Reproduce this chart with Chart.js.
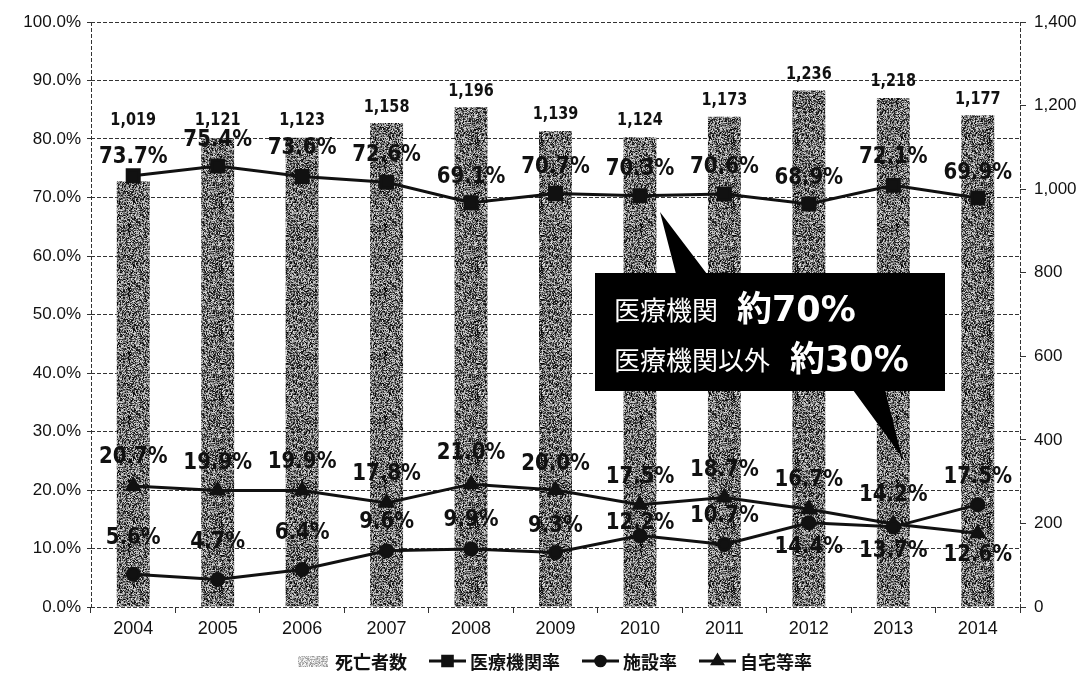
<!DOCTYPE html>
<html lang="ja">
<head>
<meta charset="UTF-8">
<title>死亡場所の推移</title>
<script src="https://cdn.jsdelivr.net/npm/chart.js@4.4.0/dist/chart.umd.min.js"></script>
<style>
    body { margin: 0; background: #fff; }
    #wrap { width: 1082px; height: 673px; }
</style>
</head>
<body>
<div id="wrap"><canvas id="chart" width="1082" height="673"></canvas></div>
<script>
    // data
    const years = ['2004', '2005', '2006', '2007', '2008', '2009', '2010', '2011', '2012', '2013', '2014'];
    const deaths = [1019, 1121, 1123, 1158, 1196, 1139, 1124, 1173, 1236, 1218, 1177];
    const hospitalRate = [73.7, 75.4, 73.6, 72.6, 69.1, 70.7, 70.3, 70.6, 68.9, 72.1, 69.9];
    const facilityRate = [5.6, 4.7, 6.4, 9.6, 9.9, 9.3, 12.2, 10.7, 14.4, 13.7, 17.5];
    const homeRate = [20.7, 19.9, 19.9, 17.8, 21.0, 20.0, 17.5, 18.7, 16.7, 14.2, 12.6];
    const seriesNames = ['死亡者数', '医療機関率', '施設率', '自宅等率'];
    const calloutLines = [['医療機関', '約70%'], ['医療機関以外', '約30%']];

    const INK = '#111';

    // grainy gray fill like the scanned bars (integer hash, not data)
    function grain(base, spread) {
        const n = 64;
        const c = document.createElement('canvas');
        c.width = c.height = n;
        const g = c.getContext('2d');
        const img = g.createImageData(n, n);
        for (let p = 0; p < n * n; p++) {
            let h = Math.imul(p + 1, 374761393) + 668265263;
            h = Math.imul(h ^ (h >>> 13), 1274126177);
            h = (h ^ (h >>> 16)) >>> 0;
            const f = (h % 1000) / 1000;
            const v = Math.max(0, Math.min(255, Math.round(base + (f - 0.5) * spread)));
            img.data[p * 4] = img.data[p * 4 + 1] = img.data[p * 4 + 2] = v;
            img.data[p * 4 + 3] = 255;
        }
        g.putImageData(img, 0, 0);
        return g.createPattern(c, 'repeat');
    }

    function squeezedText(ctx, txt, x, y, font, sx) {
        ctx.save();
        ctx.font = font;
        ctx.translate(x, y);
        ctx.scale(sx, 1);
        ctx.fillText(txt, 0, 0);
        ctx.restore();
    }

    // value labels above/below the marks
    const valueLabels = {
        id: 'valueLabels',
        afterDatasetsDraw(chart) {
            const ctx = chart.ctx;
            ctx.save();
            ctx.fillStyle = INK;
            ctx.textAlign = 'center';
            ctx.textBaseline = 'middle';
            chart.data.datasets.forEach((ds, i) => {
                const meta = chart.getDatasetMeta(i);
                meta.data.forEach((el, j) => {
                    if (ds.type === 'bar') {
                        const y = Math.min(el.y - 16, chart.scales.y.getPixelForValue(83.2));
                        squeezedText(ctx, ds.data[j].toLocaleString('en-US'), el.x, y, "bold 17px 'DejaVu Sans'", 0.85);
                    } else {
                        squeezedText(ctx, ds.data[j].toFixed(1) + '%', el.x, el.y + ds.labelOffsets[j], "bold 23px 'DejaVu Sans'", 0.86);
                    }
                });
            });
            ctx.restore();
        }
    };

    // dashed frame on left, right and bottom of the plot
    const frame = {
        id: 'frame',
        beforeDatasetsDraw(chart) {
            const { ctx, chartArea: a } = chart;
            ctx.save();
            ctx.strokeStyle = '#333';
            ctx.lineWidth = 1;
            ctx.setLineDash([4, 2]);
            ctx.beginPath();
            ctx.moveTo(a.left + 0.5, a.top);
            ctx.lineTo(a.left + 0.5, a.bottom);
            ctx.moveTo(a.right + 0.5, a.top);
            ctx.lineTo(a.right + 0.5, a.bottom);
            ctx.moveTo(a.left, a.bottom + 0.5);
            ctx.lineTo(a.right, a.bottom + 0.5);
            ctx.stroke();
            ctx.restore();
        }
    };

    // black speech box
    const callout = {
        id: 'callout',
        afterDraw(chart) {
            const ctx = chart.ctx;
            ctx.save();
            ctx.fillStyle = '#000';
            ctx.fillRect(595, 273, 350, 118);
            ctx.beginPath();
            ctx.moveTo(676, 274);
            ctx.lineTo(660, 212);
            ctx.lineTo(707, 274);
            ctx.closePath();
            ctx.moveTo(853, 390);
            ctx.lineTo(902, 457);
            ctx.lineTo(885, 390);
            ctx.closePath();
            ctx.fill();
            ctx.fillStyle = '#fff';
            ctx.textBaseline = 'alphabetic';
            ctx.textAlign = 'left';
            ctx.font = "26px 'Noto Sans CJK JP'";
            ctx.fillText(calloutLines[0][0], 614, 320);
            ctx.fillText(calloutLines[1][0], 614, 370);
            ctx.font = "bold 35px 'DejaVu Sans', 'Noto Sans CJK JP'";
            ctx.fillText(calloutLines[0][1], 737, 321);
            ctx.fillText(calloutLines[1][1], 790, 371);
            ctx.restore();
        }
    };

    // legend row at the bottom: swatch / line+marker icons
    const legendRow = {
        id: 'legendRow',
        afterDraw(chart) {
            const ctx = chart.ctx;
            const y = 661;
            ctx.save();
            ctx.font = "bold 18px 'Noto Sans CJK JP'";
            ctx.textBaseline = 'middle';
            const items = chart.data.datasets.map(ds => ({ ds, w: ctx.measureText(ds.label).width }));
            const iconW = 37, gap = 22;
            let total = 0;
            items.forEach(it => { total += iconW + 4 + it.w; });
            total += gap * (items.length - 1);
            let x = 553 - total / 2;
            items.forEach(it => {
                const ds = it.ds;
                if (ds.type === 'bar') {
                    ctx.fillStyle = legendSwatch;
                    ctx.fillRect(x + 4, y - 5, 30, 11);
                } else {
                    ctx.strokeStyle = INK;
                    ctx.lineWidth = 3;
                    ctx.beginPath();
                    ctx.moveTo(x, y);
                    ctx.lineTo(x + iconW, y);
                    ctx.stroke();
                    Chart.helpers.drawPoint(ctx, {
                        pointStyle: ds.pointStyle, radius: ds.pointRadius * 0.8, borderWidth: 1
                    }, x + iconW / 2, y);
                }
                ctx.fillStyle = INK;
                ctx.fillText(ds.label, x + iconW + 4, y + 1);
                x += iconW + 4 + it.w + gap;
            });
            ctx.restore();
        }
    };

    const ctx = document.getElementById('chart').getContext('2d');
    const barFill = grain(112, 230);
    const legendSwatch = grain(200, 110);

    const lineStyle = {
        type: 'line',
        yAxisID: 'y',
        borderColor: INK,
        backgroundColor: INK,
        pointBorderColor: INK,
        pointBackgroundColor: INK,
        borderWidth: 3,
        tension: 0,
        order: 1
    };

    new Chart(ctx, {
        data: {
            labels: years,
            datasets: [{
                type: 'bar',
                label: seriesNames[0],
                data: deaths,
                yAxisID: 'y1',
                backgroundColor: barFill,
                barPercentage: 0.39,
                categoryPercentage: 1,
                order: 2
            }, {
                ...lineStyle,
                label: seriesNames[1],
                data: hospitalRate,
                pointStyle: 'rect',
                pointRadius: 8.5,
                labelOffsets: [-19, -26, -28, -27, -26, -26, -27, -27, -26, -28, -25]
            }, {
                ...lineStyle,
                label: seriesNames[2],
                data: facilityRate,
                pointStyle: 'circle',
                pointRadius: 6,
                labelOffsets: [-36, -37, -37, -29, -29, -27, -13, -28, 24, 24, -28]
            }, {
                ...lineStyle,
                label: seriesNames[3],
                data: homeRate,
                pointStyle: 'triangle',
                pointRadius: 7,
                labelOffsets: [-29, -28, -29, -29, -31, -26, -28, -28, -29, -29, 22]
            }]
        },
        options: {
            responsive: false,
            animation: false,
            layout: { padding: { top: 22, left: 0, right: 0, bottom: 0 } },
            plugins: {
                legend: { display: false },
                tooltip: { enabled: false }
            },
            scales: {
                x: {
                    afterFit: s => { s.height = 66; },
                    grid: { drawOnChartArea: false, drawTicks: true, tickLength: 6, color: '#333', offset: true },
                    border: { display: false },
                    ticks: { color: INK, padding: 5, font: { family: 'Liberation Sans', size: 18 } }
                },
                y: {
                    position: 'left',
                    min: 0,
                    max: 100,
                    afterFit: s => { s.width = 91; },
                    grid: { color: '#333', lineWidth: 1, tickLength: 4 },
                    border: { display: false, dash: [4, 2] },
                    ticks: {
                        stepSize: 10,
                        padding: 6,
                        color: INK,
                        font: { family: 'Liberation Sans', size: 17 },
                        callback: v => v.toFixed(1) + '%'
                    }
                },
                y1: {
                    position: 'right',
                    min: 0,
                    max: 1400,
                    afterFit: s => { s.width = 62; },
                    grid: { drawOnChartArea: false, tickLength: 6, color: '#333' },
                    border: { display: false },
                    ticks: {
                        stepSize: 200,
                        padding: 8,
                        color: INK,
                        font: { family: 'Liberation Sans', size: 17 },
                        callback: v => v.toLocaleString('en-US')
                    }
                }
            }
        },
        plugins: [frame, valueLabels, callout, legendRow]
    });
</script>
</body>
</html>
